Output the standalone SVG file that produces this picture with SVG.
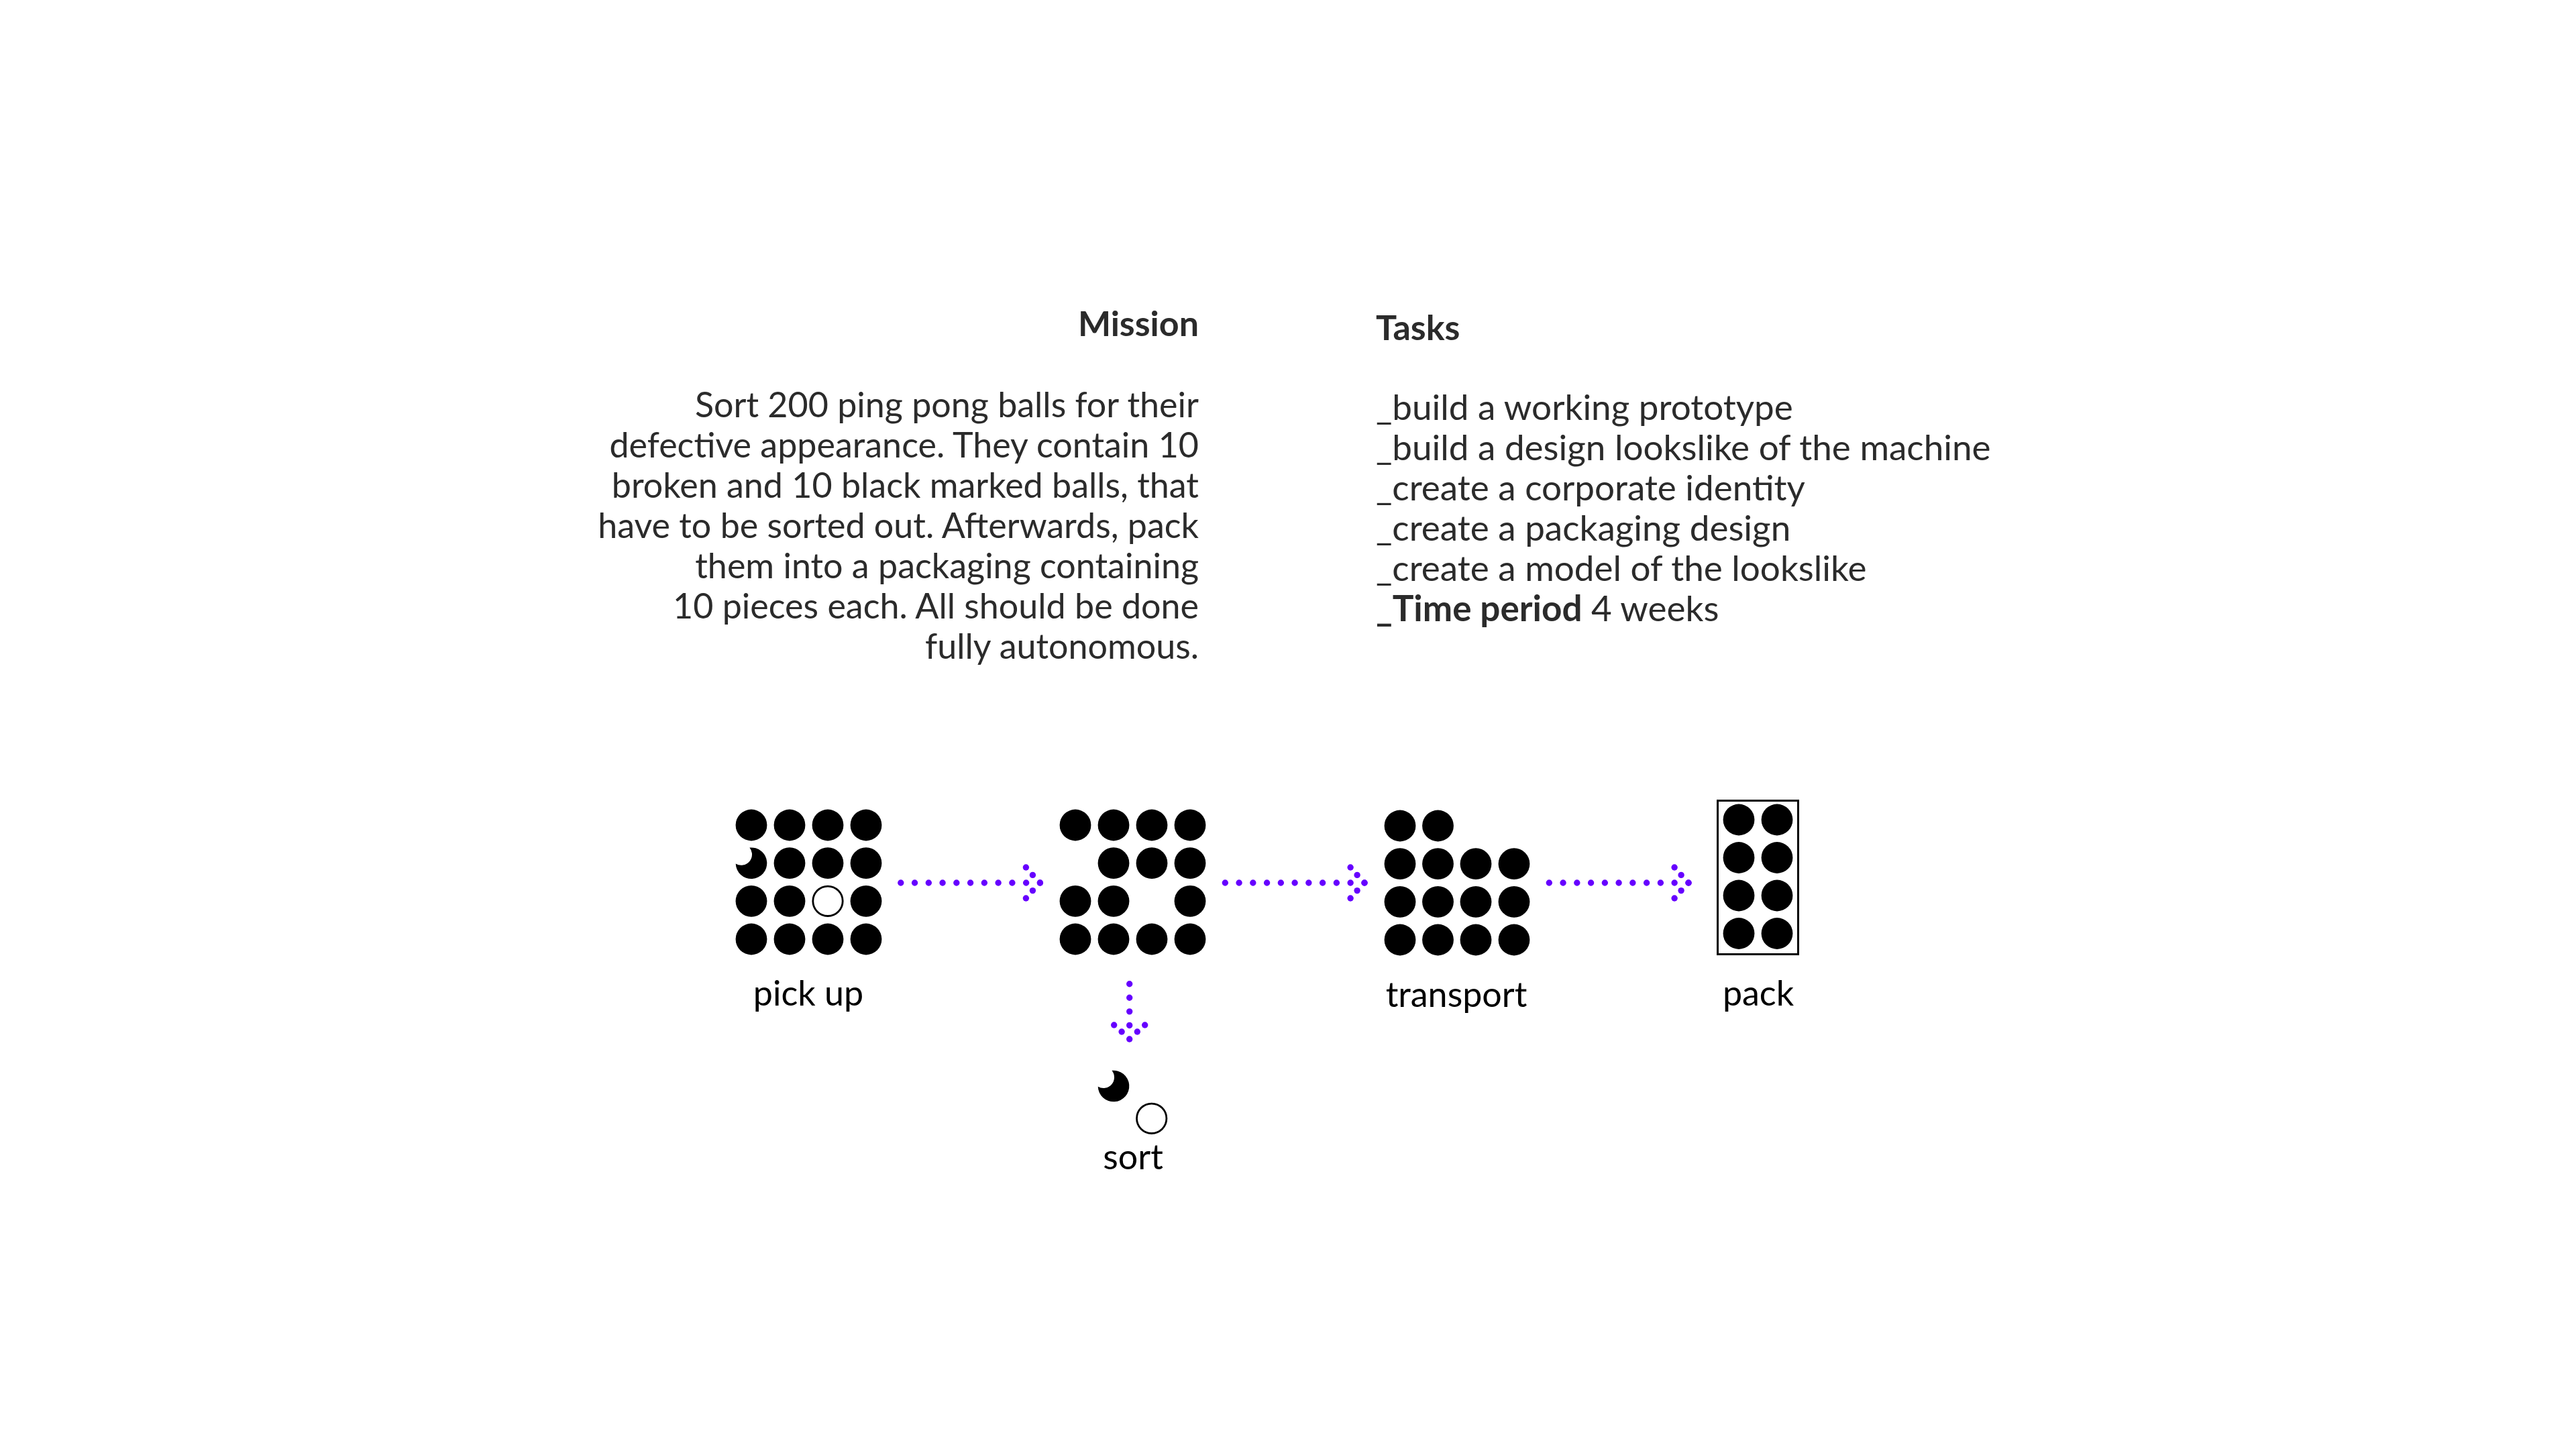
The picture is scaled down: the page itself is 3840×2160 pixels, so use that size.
<svg xmlns="http://www.w3.org/2000/svg" xmlns:xlink="http://www.w3.org/1999/xlink" width="3840" height="2160" viewBox="0 0 3840 2160">
  <style>
    .txt { font-family: Lato, "Liberation Sans", sans-serif; font-size: 52px; fill: #2b2b2b; }
    .end { text-anchor: end; }
    .tk { font-size: 53px; }
    .bold { font-weight: 700; }
    .label { font-family: Lato, "Liberation Sans", sans-serif; font-size: 52px; fill: #000; text-anchor: middle; }
    .ball { fill: #000; }
    .empty { fill: #fff; stroke: #000; stroke-width: 2.8; }
    .shaft { fill: none; stroke: #6600ff; stroke-width: 9.4; stroke-linecap: round; stroke-dasharray: 0 20.76; }
    .dot { fill: #6600ff; }
  </style>
  <defs>
    <path id="moon" class="ball" d="M -2.63 -23.15 A 23.3 23.3 0 1 1 -23.29 0.69 A 16 16 0 0 0 -2.63 -23.15 Z"/>
    <marker id="dh" markerUnits="userSpaceOnUse" markerWidth="80" markerHeight="80" viewBox="-40 -40 80 80" refX="0" refY="0" orient="auto" overflow="visible">
      <circle class="dot" cx="0" cy="0" r="4.7"/>
      <circle class="dot" cx="-11" cy="-11.6" r="4.7"/>
      <circle class="dot" cx="-11" cy="11.6" r="4.7"/>
      <circle class="dot" cx="-21" cy="-23" r="4.7"/>
      <circle class="dot" cx="-21" cy="23" r="4.7"/>
    </marker>
  </defs>
  <rect width="3840" height="2160" fill="#fff"/>

  <g id="mission">
    <text class="txt bold end" x="1787" y="501">Mission</text>
    <text class="txt end" x="1787" y="621.7">Sort 200 ping pong balls for their</text>
    <text class="txt end" x="1787" y="681.7">defective appearance. They contain 10</text>
    <text class="txt end" x="1787" y="741.7">broken and 10 black marked balls, that</text>
    <text class="txt end" x="1787" y="801.7">have to be sorted out. Afterwards, pack</text>
    <text class="txt end" x="1787" y="861.7">them into a packaging containing</text>
    <text class="txt end" x="1787" y="921.7">10 pieces each. All should be done</text>
    <text class="txt end" x="1787" y="981.7">fully autonomous.</text>
  </g>

  <g id="tasks">
    <text class="txt bold" x="2051" y="506.7">Tasks</text>
    <text class="txt tk" x="2051" y="625.7">_build a working prototype</text>
    <text class="txt tk" x="2051" y="685.7">_build a design lookslike of the machine</text>
    <text class="txt tk" x="2051" y="745.7">_create a corporate identity</text>
    <text class="txt tk" x="2051" y="805.7">_create a packaging design</text>
    <text class="txt tk" x="2051" y="865.7">_create a model of the lookslike</text>
    <text class="txt tk" x="2051" y="925.7"><tspan class="bold">_Time period</tspan> 4 weeks</text>
  </g>

  <g id="pickup">
    <circle class="ball" cx="1120" cy="1230" r="23.4"/>
    <circle class="ball" cx="1177" cy="1230" r="23.4"/>
    <circle class="ball" cx="1234" cy="1230" r="23.4"/>
    <circle class="ball" cx="1291" cy="1230" r="23.4"/>
    <use xlink:href="#moon" href="#moon" x="1120" y="1286.7"/>
    <circle class="ball" cx="1177" cy="1286.7" r="23.4"/>
    <circle class="ball" cx="1234" cy="1286.7" r="23.4"/>
    <circle class="ball" cx="1291" cy="1286.7" r="23.4"/>
    <circle class="ball" cx="1120" cy="1343.3" r="23.4"/>
    <circle class="ball" cx="1177" cy="1343.3" r="23.4"/>
    <circle class="empty" cx="1234" cy="1343.3" r="22.2"/>
    <circle class="ball" cx="1291" cy="1343.3" r="23.4"/>
    <circle class="ball" cx="1120" cy="1400" r="23.4"/>
    <circle class="ball" cx="1177" cy="1400" r="23.4"/>
    <circle class="ball" cx="1234" cy="1400" r="23.4"/>
    <circle class="ball" cx="1291" cy="1400" r="23.4"/>
    <text class="label" x="1205" y="1499">pick up</text>
  </g>

  <g id="sort">
    <circle class="ball" cx="1603" cy="1230" r="23.4"/>
    <circle class="ball" cx="1660" cy="1230" r="23.4"/>
    <circle class="ball" cx="1717" cy="1230" r="23.4"/>
    <circle class="ball" cx="1774" cy="1230" r="23.4"/>
    <circle class="ball" cx="1660" cy="1286.7" r="23.4"/>
    <circle class="ball" cx="1717" cy="1286.7" r="23.4"/>
    <circle class="ball" cx="1774" cy="1286.7" r="23.4"/>
    <circle class="ball" cx="1603" cy="1343.3" r="23.4"/>
    <circle class="ball" cx="1660" cy="1343.3" r="23.4"/>
    <circle class="ball" cx="1774" cy="1343.3" r="23.4"/>
    <circle class="ball" cx="1603" cy="1400" r="23.4"/>
    <circle class="ball" cx="1660" cy="1400" r="23.4"/>
    <circle class="ball" cx="1717" cy="1400" r="23.4"/>
    <circle class="ball" cx="1774" cy="1400" r="23.4"/>
  </g>

  <g id="rejects">
    <use xlink:href="#moon" href="#moon" x="1660" y="1619"/>
    <circle class="empty" cx="1716.7" cy="1667.3" r="22.2"/>
    <text class="label" x="1689" y="1743">sort</text>
  </g>

  <g id="transport">
    <circle class="ball" cx="2087" cy="1231" r="23.4"/>
    <circle class="ball" cx="2143.5" cy="1231" r="23.4"/>
    <circle class="ball" cx="2087" cy="1287.7" r="23.4"/>
    <circle class="ball" cx="2143.5" cy="1287.7" r="23.4"/>
    <circle class="ball" cx="2200" cy="1287.7" r="23.4"/>
    <circle class="ball" cx="2257" cy="1287.7" r="23.4"/>
    <circle class="ball" cx="2087" cy="1344.3" r="23.4"/>
    <circle class="ball" cx="2143.5" cy="1344.3" r="23.4"/>
    <circle class="ball" cx="2200" cy="1344.3" r="23.4"/>
    <circle class="ball" cx="2257" cy="1344.3" r="23.4"/>
    <circle class="ball" cx="2087" cy="1401" r="23.4"/>
    <circle class="ball" cx="2143.5" cy="1401" r="23.4"/>
    <circle class="ball" cx="2200" cy="1401" r="23.4"/>
    <circle class="ball" cx="2257" cy="1401" r="23.4"/>
    <text class="label" x="2171" y="1501">transport</text>
  </g>

  <g id="pack">
    <rect x="2560.5" y="1193.5" width="120" height="229" fill="none" stroke="#000" stroke-width="3"/>
    <circle class="ball" cx="2592" cy="1222" r="23.4"/>
    <circle class="ball" cx="2649" cy="1222" r="23.4"/>
    <circle class="ball" cx="2592" cy="1278.5" r="23.4"/>
    <circle class="ball" cx="2649" cy="1278.5" r="23.4"/>
    <circle class="ball" cx="2592" cy="1335" r="23.4"/>
    <circle class="ball" cx="2649" cy="1335" r="23.4"/>
    <circle class="ball" cx="2592" cy="1391.5" r="23.4"/>
    <circle class="ball" cx="2649" cy="1391.5" r="23.4"/>
    <text class="label" x="2621" y="1499">pack</text>
  </g>

  <g id="connectors">
    <path class="shaft" d="M 1342.8 1316 H 1550.4" marker-end="url(#dh)"/>
    <path class="shaft" d="M 1826.3 1316 H 2034.1" marker-end="url(#dh)"/>
    <path class="shaft" d="M 2309.3 1316 H 2517.1" marker-end="url(#dh)"/>
    <path class="shaft" style="stroke-dasharray: 0 20.58" d="M 1683.7 1466.7 V 1549" marker-end="url(#dh)"/>
  </g>
</svg>
